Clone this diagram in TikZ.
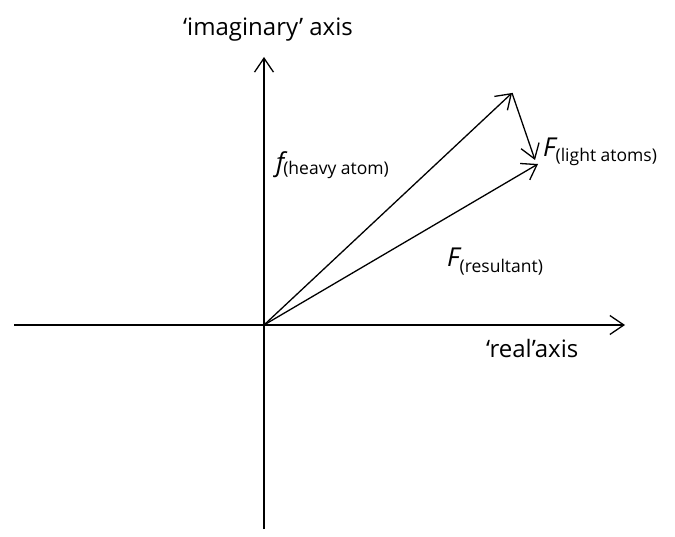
\documentclass[tikz,border=0pt]{standalone}
\usepackage{fontspec}
\setmainfont{Open Sans}
\usetikzlibrary{arrows.meta}
\begin{document}
\begin{tikzpicture}[x=1pt,y=-1pt,
  vec/.style={line width=1.3pt,-{Straight Barb[length=14pt,width=19pt,line width=1.3pt]}},
  lbl/.style={inner sep=0pt,font=\fontsize{24}{28}\selectfont},
  big/.style={inner sep=0pt,font=\fontsize{26}{28}\selectfont\itshape}]
\newcommand{\subtxt}[2]{\raisebox{-#1pt}{\fontsize{17.5}{20}\selectfont\upshape #2}}
\useasboundingbox (0,0) rectangle (675,537);
\coordinate (O) at (264,325);
\coordinate (ybot) at (264,529);
\coordinate (ytop) at (264,57);
\coordinate (xleft) at (14,325);
\coordinate (xright) at (625,325);
\coordinate (H) at (512,93);
\coordinate (L) at (535,160);
\coordinate (R) at (538,164);
\draw[vec] (ybot) -- (ytop);
\draw[vec] (xleft) -- (xright);
\draw[vec] (O) -- (H);
\draw[vec] (H) -- (L);
\draw[vec] (O) -- (R);
\node[lbl,anchor=base] (imag) at (268,36) {‘imaginary’ axis};
\node[lbl,anchor=base west] (real) at (486,358) {‘real’axis};
\node[big,anchor=base west] (fh) at (276,172) {f\kern-1pt\subtxt{3}{(heavy atom)}};
\node[big,anchor=base west] (fl) at (543,157) {F\subtxt{5}{(light atoms)}};
\node[big,anchor=base west] (fr) at (447,267) {F\subtxt{6}{(resultant)}};
\end{tikzpicture}
\end{document}
